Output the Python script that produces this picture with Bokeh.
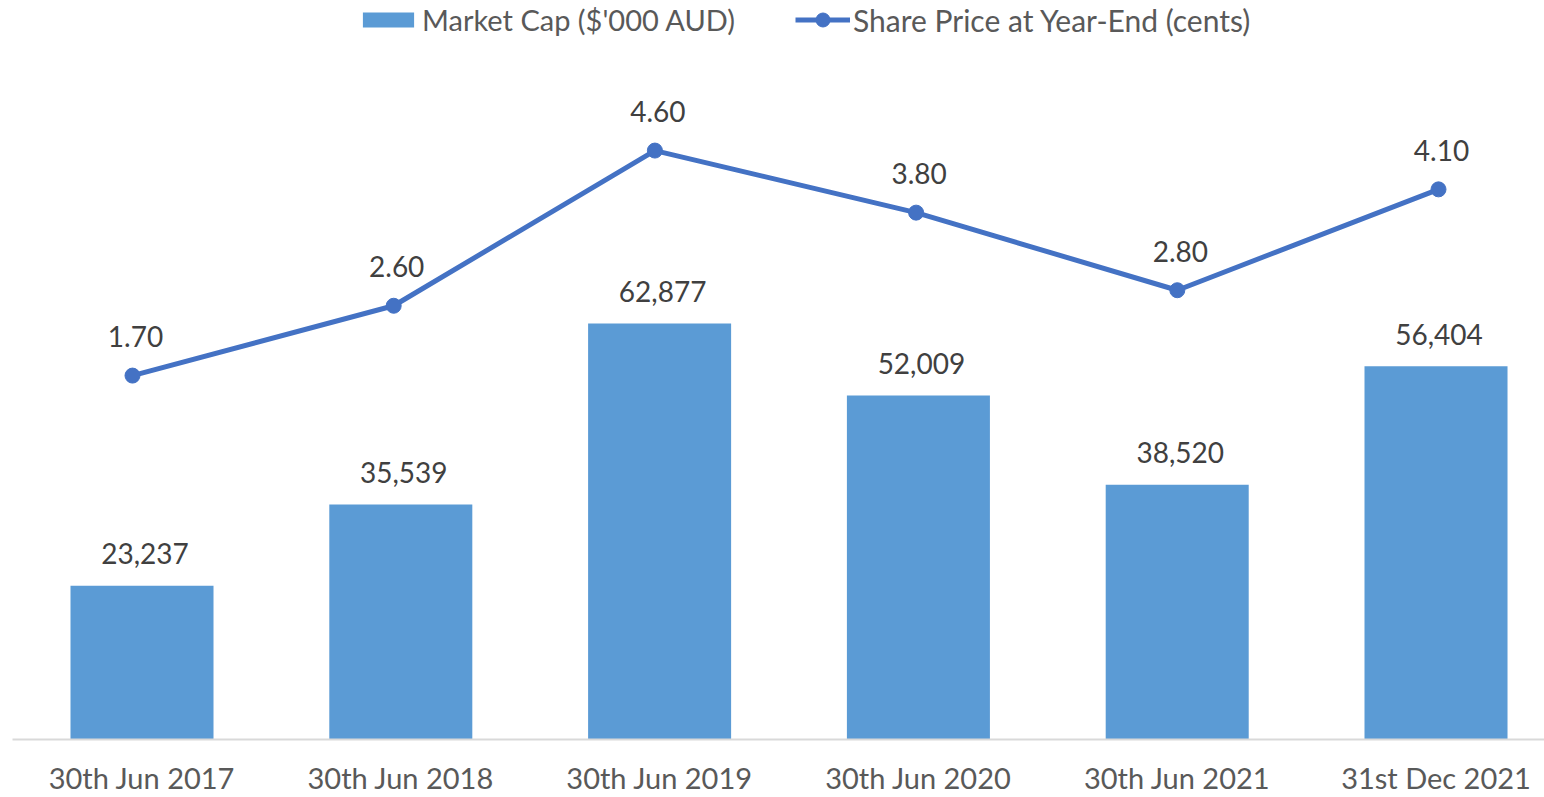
from bokeh.plotting import figure
from bokeh.models import Range1d, FixedTicker, Legend, LegendItem, ColumnDataSource
from bokeh.embed import file_html
from bokeh.resources import INLINE
from bokeh.core.properties import value

categories = ["30th Jun 2017", "30th Jun 2018", "30th Jun 2019",
              "30th Jun 2020", "30th Jun 2021", "31st Dec 2021"]
market_cap = [23237, 35539, 62877, 52009, 38520, 56404]
share_price = [1.70, 2.60, 4.60, 3.80, 2.80, 4.10]

FONT = "Lato"
BAR_COLOR = "#5B9BD5"
LINE_COLOR = "#4472C4"

idx = list(range(len(categories)))
bar_src = ColumnDataSource(dict(x=idx, cap=market_cap,
                                lbl=[f"{v:,}" for v in market_cap]))
line_src = ColumnDataSource(dict(x=idx, price=share_price,
                                 lbl=[f"{v:.2f}" for v in share_price]))

p = figure(width=1544, height=797, output_backend="svg", toolbar_location=None,
           x_range=Range1d(-0.5004, 5.4192), y_range=Range1d(0, 111700),
           y_axis_location=None, min_border_left=12, min_border_right=0,
           min_border_top=0, min_border_bottom=50, outline_line_color=None)
p.extra_y_ranges = {"price": Range1d(-2.99, 6.534)}
p.extra_x_ranges = {"lx": Range1d(-0.4594, 5.4058)}

bars = p.vbar(x="x", top="cap", width=0.5526, source=bar_src,
              fill_color=BAR_COLOR, line_color=None)

line_r = p.line("x", "price", source=line_src, x_range_name="lx",
                y_range_name="price", line_color=LINE_COLOR, line_width=5)
pts = p.scatter("x", "price", source=line_src, x_range_name="lx",
                y_range_name="price", size=15, fill_color=LINE_COLOR,
                line_color=LINE_COLOR)

p.text(x="x", y="cap", text="lbl", source=bar_src, text_align="center",
       text_baseline="middle", y_offset=-32, x_offset=3,
       text_font=value(FONT), text_font_size="28px", text_color="#404040")
p.text(x="x", y="price", text="lbl", source=line_src, x_range_name="lx",
       y_range_name="price", text_align="center", text_baseline="middle",
       y_offset=-39, x_offset=3,
       text_font=value(FONT), text_font_size="28px", text_color="#404040")

p.grid.visible = False
ax = p.xaxis[0]
ax.ticker = FixedTicker(ticks=idx)
ax.major_label_overrides = {i: c for i, c in enumerate(categories)}
ax.axis_line_color = "#D9D9D9"
ax.axis_line_width = 2
ax.major_tick_line_color = None
ax.minor_tick_line_color = None
ax.major_tick_out = 0
ax.major_tick_in = 0
ax.major_label_standoff = 20
ax.major_label_text_font = FONT
ax.major_label_text_font_size = "29px"
ax.major_label_text_color = "#595959"

common = dict(orientation="horizontal", padding=0, margin=0,
              border_line_color=None, background_fill_alpha=0,
              label_text_font=FONT, label_text_color="#595959", label_height=24)
leg1 = Legend(items=[LegendItem(label="Market Cap ($'000 AUD)", renderers=[bars])],
              location=(344, 702), glyph_width=64, glyph_height=19,
              label_standoff=2, label_text_font_size="29px", **common)
leg2 = Legend(items=[LegendItem(label="Share Price at Year-End (cents)",
                                renderers=[line_r, pts])],
              location=(783, 701.5), glyph_width=55, glyph_height=35,
              label_standoff=3, label_text_font_size="30px", **common)
p.add_layout(leg1)
p.add_layout(leg2)

open("out.html", "w").write(file_html(p, INLINE))
